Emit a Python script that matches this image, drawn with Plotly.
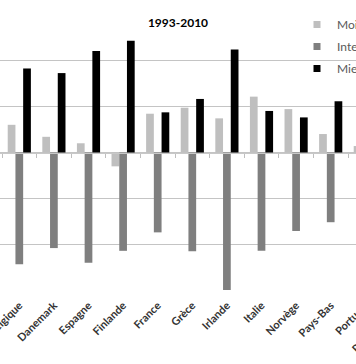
import plotly.graph_objects as go

countries = ["Belgique", "Danemark", "Espagne", "Finlande", "France", "Grèce",
             "Irlande", "Italie", "Norvège", "Pays-Bas", "Portugal", "Royaume-Uni"]
moins_bien = [0.60, 0.34, 0.20, -0.30, 0.84, 0.97, 0.74, 1.21, 0.94, 0.40, 0.14, None]
intermediaire = [-2.42, -2.07, -2.39, -2.13, -1.73, -2.14, -2.98, -2.13, -1.70, -1.51, None, None]
mieux = [1.82, 1.72, 2.20, 2.42, 0.87, 1.16, 2.23, 0.90, 0.76, 1.11, None, None]
series_names = ["Moins bien", "Intermédiaire", "Mieux"]
series_colors = ["#BFBFBF", "#7F7F7F", "#000000"]
title_text = "1993-2010"

FONT = "Lato"
W, H = 430, 364
x_range = [-0.5578, (W - 2) / 34.6 - 0.5]

fig = go.Figure()
for name, vals, col in zip(series_names, [moins_bien, intermediaire, mieux], series_colors):
    fig.add_trace(go.Bar(x=countries, y=vals, name=name, marker_color=col,
                         marker_line_width=0, showlegend=False))
for name, col in zip(series_names, series_colors):
    fig.add_trace(go.Scatter(x=[None], y=[None], mode="markers", name=name,
                             marker=dict(symbol="square", size=7, color=col),
                             legendgroup=name))
# horizontal axis line at zero with category boundary ticks
fig.add_trace(go.Scatter(x=countries, y=[None] * len(countries), xaxis="x2",
                         showlegend=False, hoverinfo="skip"))

fig.update_layout(
    width=W, height=H,
    margin=dict(l=0, r=0, t=14, b=73, autoexpand=False),
    template="none",
    plot_bgcolor="white", paper_bgcolor="white",
    barmode="group", bargap=0.33, bargroupgap=0,
    font=dict(family=FONT, color="#404040"),
    title=dict(text=title_text, x=178 / W, xanchor="center", xref="container",
               y=1 - 23 / H, yanchor="middle", yref="container",
               font=dict(size=12, color="#000000", family=FONT, weight="bold")),
    legend=dict(x=297 / W, xanchor="left", xref="container",
                y=1 - 10 / H, yanchor="top", yref="container",
                font=dict(size=12, color="#595959", family=FONT),
                tracegroupgap=3, bgcolor="rgba(0,0,0,0)", borderwidth=0),
    xaxis=dict(type="category", categoryorder="array", categoryarray=countries,
               range=x_range,
               showgrid=False, showline=False, zeroline=False, ticks="",
               tickangle=-45, automargin=False, ticklabelstandoff=5,
               tickfont=dict(size=11, family=FONT, color="#333333", weight="bold")),
    xaxis2=dict(type="category", categoryorder="array", categoryarray=countries,
                range=x_range, overlaying="x", anchor="free", position=0.5,
                side="bottom", showticklabels=False, showgrid=False, zeroline=False,
                showline=True, linecolor="#C8C8C8", linewidth=1,
                ticks="outside", ticklen=4, tickcolor="#BFBFBF", tickson="boundaries"),
    yaxis=dict(range=[-3, 3], dtick=1, tick0=0, showticklabels=False, ticks="",
               showgrid=True, gridcolor="#C4C4C4", gridwidth=1,
               zeroline=False, showline=False, automargin=False),
)

fig.write_html("out.html", config={"displayModeBar": False},
               post_script="document.body.style.margin='0px';")
